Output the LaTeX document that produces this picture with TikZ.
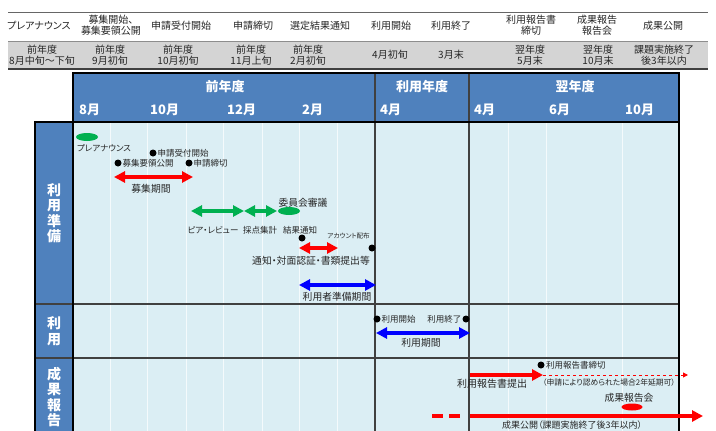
\documentclass[tikz,border=0pt]{standalone}
\usepackage{fontspec}
\setmainfont{Noto Sans CJK JP}[RawFeature={+palt}]
\usetikzlibrary{arrows.meta,shapes.geometric}
\definecolor{hdrblue}{HTML}{4F81BD}
\definecolor{bodybg}{HTML}{DBEEF4}
\definecolor{graybg}{HTML}{D4D4D4}
\definecolor{grn}{HTML}{00B050}
\definecolor{rd}{HTML}{FF0000}
\definecolor{bl}{HTML}{0000FF}
\definecolor{divline}{HTML}{404040}
\definecolor{txt}{HTML}{262626}
\tikzset{
 toptxt/.style={font=\fontsize{10}{11.5}\selectfont, align=center, inner sep=0pt, text=txt},
 yrtxt/.style={font=\fontsize{13}{14}\selectfont\bfseries, text=white, inner sep=0pt},
 montxt/.style={font=\fontsize{13}{14}\selectfont\bfseries, text=white, inner sep=0pt, anchor=west},
 sectxt/.style={font=\fontsize{14}{15.5}\selectfont\bfseries, text=white, align=center, inner sep=0pt},
 evtxt/.style={font=\fontsize{8.5}{9}\selectfont, text=txt, inner sep=0pt},
 bigtxt/.style={font=\fontsize{9.8}{10}\selectfont, text=txt, inner sep=0pt},
 smtxt/.style={font=\fontsize{7.8}{8}\selectfont, text=txt, inner sep=0pt},
 dotnode/.style={circle, fill=black, inner sep=0pt, minimum size=7pt},
 blob/.style={ellipse, inner sep=0pt, minimum width=22pt, minimum height=8pt},
 dblarrow/.style={line width=3.5pt, {Triangle[length=11pt,width=11pt]}-{Triangle[length=11pt,width=11pt]}},
 sglarrow/.style={line width=3.5pt, -{Triangle[length=11pt,width=11pt]}},
 gridln/.style={white!70!bodybg, line width=0.6pt},
 divln/.style={divline, line width=1.3pt},
}
\begin{document}
\begin{tikzpicture}[x=1pt,y=-1pt]
\useasboundingbox (0,0) rectangle (716,431);
\clip (0,0) rectangle (716,431);
\fill[white] (0,0) rectangle (716,431);
% ---------- top table ----------
\fill[graybg] (8,41) rectangle (708,69);
\draw[divline!80, line width=1pt] (8,12) -- (708,12);
\draw[divline!60, line width=0.8pt] (8,41) -- (708,41);
\draw[divline, line width=1.8pt] (8,69) -- (708,69);
\node[toptxt] (h1) at (39,26) {プレアナウンス};
\node[toptxt] (h2) at (111,25) {募集開始、\\募集要領公開};
\node[toptxt] (h3) at (181,26) {申請受付開始};
\node[toptxt] (h4) at (253,26) {申請締切};
\node[toptxt] (h5) at (320,26) {選定結果通知};
\node[toptxt] (h6) at (391,26) {利用開始};
\node[toptxt] (h7) at (451,26) {利用終了};
\node[toptxt] (h8) at (531,25) {利用報告書\\締切};
\node[toptxt] (h9) at (597,25) {成果報告\\報告会};
\node[toptxt] (h10) at (663,26) {成果公開};
\node[toptxt] (g1) at (42,55) {前年度\\8月中旬～下旬};
\node[toptxt] (g2) at (110,55) {前年度\\9月初旬};
\node[toptxt] (g3) at (178,55) {前年度\\10月初旬};
\node[toptxt] (g4) at (251,55) {前年度\\11月上旬};
\node[toptxt] (g5) at (308,55) {前年度\\2月初旬};
\node[toptxt] (g6) at (390,55) {4月初旬};
\node[toptxt] (g7) at (451,55) {3月末};
\node[toptxt] (g8) at (530,55) {翌年度\\5月末};
\node[toptxt] (g9) at (598,55) {翌年度\\10月末};
\node[toptxt] (g10) at (664,55) {課題実施終了\\後3年以内};
% ---------- chart header ----------
\fill[hdrblue] (73,73) rectangle (679,122);
\draw[divln] (375,73) -- (375,122);
\draw[divln] (469,73) -- (469,122);
\draw[black, line width=2pt] (73,73) rectangle (679,122);
\node[yrtxt] (y1) at (225,87) {前年度};
\node[yrtxt] (y2) at (422,87) {利用年度};
\node[yrtxt] (y3) at (575,87) {翌年度};
\node[montxt] (m1) at (79,110) {8月};
\node[montxt] (m2) at (150,110) {10月};
\node[montxt] (m3) at (227,110) {12月};
\node[montxt] (m4) at (302,110) {2月};
\node[montxt] (m5) at (380,110) {4月};
\node[montxt] (m6) at (474,110) {4月};
\node[montxt] (m7) at (549,110) {6月};
\node[montxt] (m8) at (625,110) {10月};
% ---------- body ----------
\fill[bodybg] (73,122) rectangle (679,440);
\fill[hdrblue] (35,122) rectangle (73,440);
\foreach \gx in {110,147,186,223,262,299,337,508,546,622}
  \draw[gridln] (\gx,122) -- (\gx,440);
\draw[divln] (375,122) -- (375,440);
\draw[divln] (469,122) -- (469,440);
\draw[divline, line width=1.6pt] (35,304) -- (679,304);
\draw[divline, line width=1.6pt] (35,358) -- (679,358);
\draw[black, line width=2pt] (73,122) -- (73,440);
\draw[black, line width=2pt] (35,440) -- (35,122) -- (679,122) -- (679,440);
\node[sectxt] (s1) at (54,213) {利\\用\\準\\備};
\node[sectxt] (s2) at (54,331) {利\\用};
\node[sectxt] (s3) at (54,397) {成\\果\\報\\告};
% ---------- 利用準備 ----------
\node[blob, fill=grn] (pre) at (87,137) {};
\node[evtxt, anchor=west] (preL) at (77,148) {プレアナウンス};
\node[dotnode] (d1) at (153,153) {};
\node[evtxt, anchor=west] (d1L) at (157.5,153) {申請受付開始};
\node[dotnode] (d2) at (118,163) {};
\node[evtxt, anchor=west] (d2L) at (122.5,163) {募集要領公開};
\node[dotnode] (d3) at (189,163) {};
\node[evtxt, anchor=west] (d3L) at (193.5,163) {申請締切};
\coordinate (r1a) at (114,177);
\coordinate (r1b) at (193,177);
\draw[dblarrow, rd] (r1a) -- (r1b);
\node[bigtxt] (r1L) at (151,189) {募集期間};
\coordinate (g1a) at (191,211);
\coordinate (g1b) at (244,211);
\coordinate (g2b) at (277,211);
\draw[dblarrow, grn] (g1a) -- (g1b);
\draw[dblarrow, grn] (g1b) -- (g2b);
\node[blob, fill=grn] (iin) at (289,211) {};
\node[bigtxt] (iinL) at (303,203) {委員会審議};
\node[evtxt] (peer) at (213,230) {ピア・レビュー};
\node[evtxt] (saiten) at (260,230) {採点集計};
\node[evtxt] (kekka) at (300,230) {結果通知};
\node[dotnode] (d4) at (302,238) {};
\node[font=\fontsize{6.6}{7}\selectfont, text=txt, inner sep=0pt, anchor=east] (acc) at (370,236) {アカウント配布};
\node[dotnode] (d5) at (372,248) {};
\coordinate (r2a) at (299,248);
\coordinate (r2b) at (338,248);
\draw[dblarrow, rd] (r2a) -- (r2b);
\node[bigtxt] (r2L) at (311,261) {通知・対面認証・書類提出等};
\coordinate (b1a) at (299,285);
\coordinate (b1b) at (376,285);
\draw[dblarrow, bl] (b1a) -- (b1b);
\node[bigtxt] (b1L) at (337,297) {利用者準備期間};
% ---------- 利用 ----------
\node[dotnode] (d6) at (377,319) {};
\node[evtxt, anchor=west] (d6L) at (381.5,319) {利用開始};
\node[dotnode] (d7) at (466,319) {};
\node[evtxt, anchor=east] (d7L) at (461.5,319) {利用終了};
\coordinate (b2a) at (376,333);
\coordinate (b2b) at (470,333);
\draw[dblarrow, bl] (b2a) -- (b2b);
\node[bigtxt] (b2L) at (421,343) {利用期間};
% ---------- 成果報告 ----------
\node[dotnode] (d8) at (541,365) {};
\node[evtxt, anchor=west] (d8L) at (546,365) {利用報告書締切};
\coordinate (r3a) at (470,375);
\coordinate (r3b) at (543,375);
\coordinate (r3c) at (688,375);
\draw[sglarrow, rd] (r3a) -- (r3b);
\draw[rd, line width=1pt, dash pattern=on 3pt off 3pt, -{Triangle[length=5pt,width=5pt]}] (r3b) -- (r3c);
\node[font=\fontsize{10}{10}\selectfont, text=txt, inner sep=0pt] (r3L) at (492,384) {利用報告書提出};
\node[smtxt] (encho) at (609,383) {（申請により認められた場合2年延期可）};
\node[bigtxt] (hkk) at (629,398) {成果報告会};
\node[blob, fill=rd, minimum width=21pt, minimum height=7pt] (hkkE) at (632,407) {};
\coordinate (da1) at (432,416);
\coordinate (da2) at (443,416);
\coordinate (da3) at (449,416);
\coordinate (da4) at (460,416);
\draw[rd, line width=3.5pt] (da1) -- (da2);
\draw[rd, line width=3.5pt] (da3) -- (da4);
\coordinate (r4a) at (470,416);
\coordinate (r4b) at (703,416);
\draw[sglarrow, rd] (r4a) -- (r4b);
\node[font=\fontsize{9}{9}\selectfont, text=txt, inner sep=0pt, anchor=west] (pub) at (502,425) {成果公開（課題実施終了後3年以内）};
\end{tikzpicture}
\end{document}
